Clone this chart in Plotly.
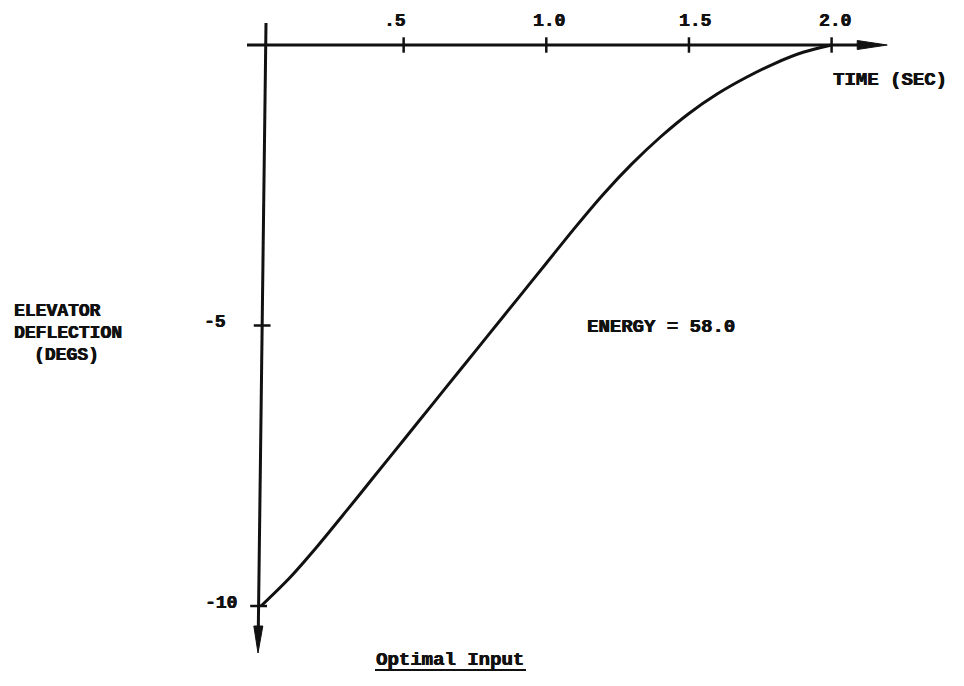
import plotly.graph_objects as go

# Optimal elevator input: deflection (degrees) against time (seconds)
time_sec = [0.0, 0.1, 0.2, 0.3, 0.4, 0.5, 0.6, 0.7, 0.8, 0.9, 1.0,
            1.1, 1.2, 1.3, 1.4, 1.5, 1.6, 1.7, 1.8, 1.9, 2.0]
deflection_deg = [-10.0, -9.50, -8.92, -8.30, -7.67, -7.04, -6.41, -5.78, -5.15, -4.52, -3.89,
                  -3.26, -2.66, -2.12, -1.64, -1.22, -0.87, -0.58, -0.33, -0.13, 0.0]

x_ticks = [0.5, 1.0, 1.5, 2.0]
x_tick_labels = [".5", "1.0", "1.5", "2.0"]
y_ticks = [-5, -10]
y_tick_labels = ["-5", "-10"]

W, H = 964, 686
X0_PX, X_SCALE = 261.0, 285.3      # pixel of t=0, pixels per second
Y0_PX, Y_SCALE = 45.0, 56.1        # pixel of deflection 0, pixels per degree

x_range = [-X0_PX / X_SCALE, (W - X0_PX) / X_SCALE]
y_range = [-(H - Y0_PX) / Y_SCALE, Y0_PX / Y_SCALE]

dx = 1.0 / X_SCALE   # one pixel in time units
dy = 1.0 / Y_SCALE   # one pixel in degree units

FONT = "Liberation Mono"
INK = "#111111"
BOLDEN = "0.5px 0px 0px #111111, -0.3px 0px 0px #111111"

# hand-drawn deflection axis leans slightly: offset (px) at its top and at its arrow tip
Y_AXIS_TOP_OFF, Y_AXIS_TIP_OFF = 5.0, -3.0
y_top, y_tip = 22 * dy, -(653 - Y0_PX) / Y_SCALE


def axis_x_at(yv):
    f = (yv - y_top) / (y_tip - y_top)
    return (Y_AXIS_TOP_OFF + f * (Y_AXIS_TIP_OFF - Y_AXIS_TOP_OFF)) * dx


fig = go.Figure()

# Response curve
fig.add_trace(go.Scatter(
    x=time_sec, y=deflection_deg, mode="lines",
    line=dict(color=INK, width=3, shape="spline", smoothing=0.8),
    hoverinfo="skip", showlegend=False))

# Time-axis tick marks
fig.add_trace(go.Scatter(
    x=x_ticks, y=[0] * len(x_ticks), mode="markers",
    marker=dict(symbol="line-ns", size=11, line=dict(color=INK, width=2.5)),
    hoverinfo="skip", showlegend=False))
# Deflection-axis tick marks
fig.add_trace(go.Scatter(
    x=[axis_x_at(v) for v in y_ticks], y=y_ticks, mode="markers",
    marker=dict(symbol="line-ew", size=12, line=dict(color=INK, width=2.5)),
    hoverinfo="skip", showlegend=False))

shapes = []
# Time axis, with arrow to the right
x_start, x_tip = -14 * dx, 2.195
shapes.append(dict(type="line", xref="x", yref="y", x0=x_start, y0=0, x1=x_tip - 20 * dx, y1=0,
                   line=dict(color=INK, width=3)))
shapes.append(dict(type="path", xref="x", yref="y",
                   path=f"M {x_tip - 30*dx},{4.5*dy} L {x_tip},0 L {x_tip - 30*dx},{-4.5*dy} Z",
                   fillcolor=INK, line=dict(color=INK, width=1)))
# Deflection axis, with arrow pointing down
y_base = y_tip + 27 * dy
shapes.append(dict(type="line", xref="x", yref="y",
                   x0=axis_x_at(y_top), y0=y_top, x1=axis_x_at(y_base), y1=y_base,
                   line=dict(color=INK, width=3)))
xb = axis_x_at(y_base)
shapes.append(dict(type="path", xref="x", yref="y",
                   path=f"M {xb - 4.5*dx},{y_base} L {axis_x_at(y_tip)},{y_tip} L {xb + 4.5*dx},{y_base} Z",
                   fillcolor=INK, line=dict(color=INK, width=1)))
# Underline of the caption
shapes.append(dict(type="line", xref="paper", yref="paper",
                   x0=375 / W, x1=526 / W, y0=1 - 670 / H, y1=1 - 670 / H,
                   line=dict(color=INK, width=2)))

annotations = []


def label(text, x, y, anchor="left", size=18):
    annotations.append(dict(x=x / W, y=1 - y / H, xref="paper", yref="paper",
                            text=f"<b>{text}</b>", showarrow=False,
                            xanchor=anchor, yanchor="middle",
                            font=dict(family=FONT, size=size, color=INK, shadow=BOLDEN)))


# tick label placement (pixel centres / right edges) as typed on the sheet
x_label_px = [395, 549, 695, 835]
for lab, px in zip(x_tick_labels, x_label_px):
    label(lab, px, 21, anchor="center", size=18)
y_label_px = [(228, 322), (239, 603)]
for lab, (px, py) in zip(y_tick_labels, y_label_px):
    label(lab, px, py, anchor="right", size=18)

label("TIME (SEC)", 831, 80, size=19)
label("ELEVATOR", 12, 311, size=18)
label("DEFLECTION", 12, 333, size=18)
label("(DEGS)", 66, 355, anchor="center", size=18)
label("ENERGY = 58.0", 585, 327, size=19)
label("Optimal Input", 374, 660, size=19)

fig.update_layout(
    width=W, height=H,
    margin=dict(l=0, r=0, t=0, b=0),
    paper_bgcolor="white", plot_bgcolor="white",
    xaxis=dict(range=x_range, visible=False, fixedrange=True),
    yaxis=dict(range=y_range, visible=False, fixedrange=True),
    shapes=shapes, annotations=annotations,
    showlegend=False,
)

fig.write_html("out.html")
